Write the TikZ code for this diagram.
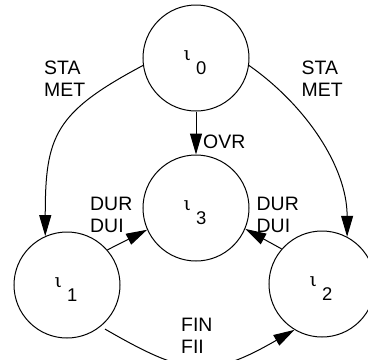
\documentclass[tikz,border=0pt]{standalone}
\usepackage{fontspec}
\setmainfont{Liberation Sans}
\newfontfamily\greekfont{DejaVu Serif}
\usetikzlibrary{arrows.meta}

% state name: a raised iota followed by a lowered index digit
\newcommand{\statename}[1]{\smash{%
  \raisebox{-2bp}{\fontsize{19}{22}\selectfont\greekfont ι}\hspace{5bp}%
  \raisebox{-16bp}{\fontsize{18.5}{22}\selectfont #1}\hspace{2bp}}}

\begin{document}
\begin{tikzpicture}[x=1bp, y=-1bp,
  state/.style={circle, draw, line width=1bp, minimum size=106bp, inner sep=0pt},
  trans/.style={line width=1bp, -{Triangle[length=21bp, width=12bp]}},
  lbl/.style={anchor=base west, inner sep=0pt, align=left,
              font=\fontsize{19.5}{22}\selectfont},
]
\useasboundingbox (0,0) rectangle (368,360);

% states
\node[state] (i0) at (196,58)  {\statename{0}};
\node[state] (i3) at (196,208) {\statename{3}};
\node[state] (i1) at (67,285)  {\statename{1}};
\node[state] (i2) at (322,284) {\statename{2}};

% transitions
\draw[trans] (i0.188) to[out=208, in=90, looseness=1.3] (i1.114);
\draw[trans] (i0.352) to[out=-35, in=90, looseness=0.9] (i2.62);
\draw[trans] (i0) -- (i3);
\draw[trans] (i1.41) -- (i3.204);
\draw[trans] (i2.139) -- (i3.337);
\draw[trans, shorten <=5bp] (i1.-51) to[out=-30, in=-150, looseness=1.3] (i2.-121);

% transition labels (anchored at the baseline of the last line)
\node[lbl] (lstaL) at (44,96.5)    {STA\\MET};
\node[lbl] (lstaR) at (301.5,96.5) {STA\\MET};
\node[lbl] (lovr)  at (203,148)    {OVR};
\node[lbl] (lduL)  at (90,232)     {DUR\\DUI};
\node[lbl] (lduR)  at (256.5,232)  {DUR\\DUI};
\node[lbl] (lfin)  at (181,353)    {FIN\\FII};
\end{tikzpicture}
\end{document}
